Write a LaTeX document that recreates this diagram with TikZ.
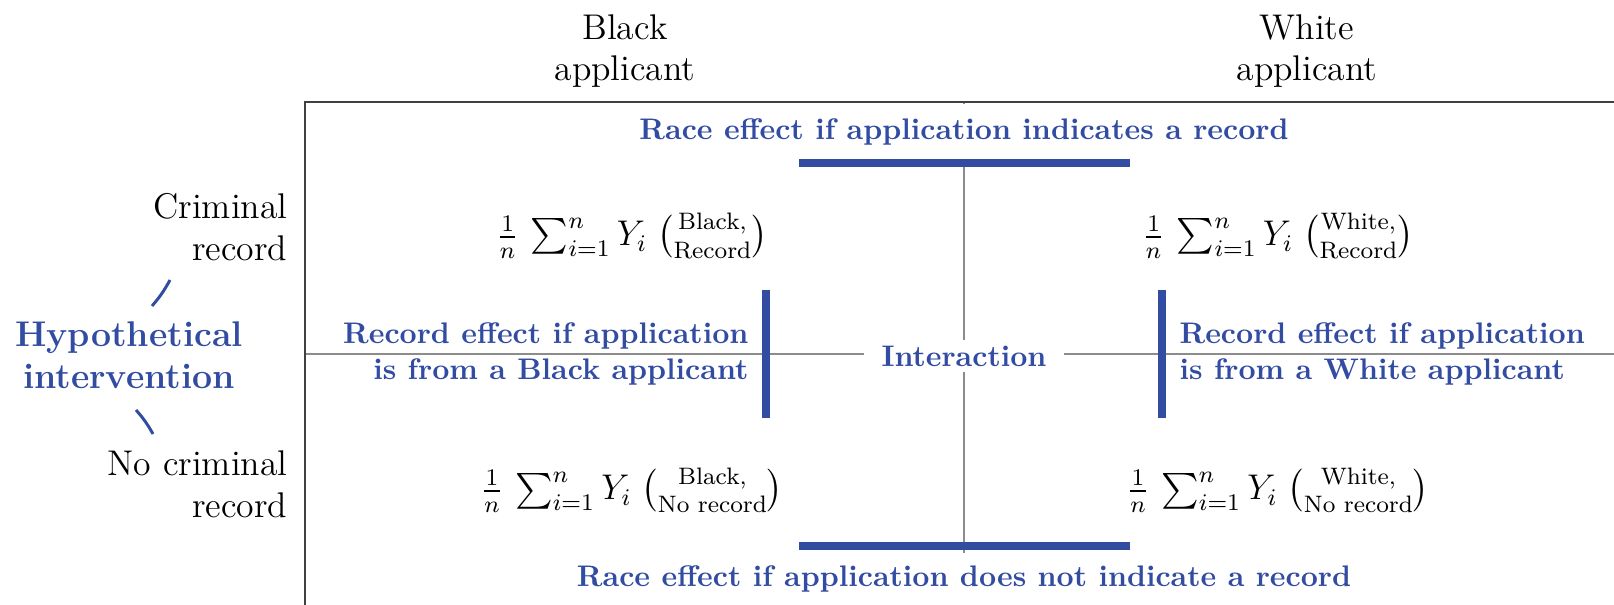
\documentclass[tikz,border=0pt]{standalone}
\usepackage{amsmath}
\usepackage{tikz}
\usetikzlibrary{positioning}
\definecolor{effblue}{RGB}{50,76,162}
\tikzstyle{axislabel}=[font=\large, align=center, inner sep=0pt]
\tikzstyle{rowlabel}=[font=\large, align=right, inner sep=0pt]
\tikzstyle{effect}=[text=effblue, font=\bfseries, inner sep=2pt]
\tikzstyle{cell}=[font=\large, inner sep=0pt]

\newcommand{\cellmean}[2]{$\frac{1}{n}\,\sum_{i=1}^{n} Y_i \;\tbinom{\text{#1,}}{\text{#2}}$}

\begin{document}
\begin{tikzpicture}[x=0.336pt, y=-0.336pt,
grid/.style={draw=black!45, line width=0.5pt},
frame/.style={draw=black!75, line width=0.6pt},
bar/.style={draw=effblue, line width=2.8pt}]
\useasboundingbox (0,0) rectangle (1614,605);

% corners of the table
\coordinate (tl) at (305,102);
\coordinate (tr) at (1614,102);
\coordinate (bl) at (305,605);
\coordinate (ml) at (305,354);
\coordinate (mr) at (1614,354);
\coordinate (ct) at (964,102);
\coordinate (cb) at (964,553);

\draw[grid] (ml) -- (mr);
\draw[grid] (ct) -- (cb);
\draw[frame] (bl) -- (tl) -- (tr);

% column and row heads
\node[axislabel] (black) at (625,51) {Black\\applicant};
\node[axislabel] (white) at (1307,51) {White\\applicant};
\node[rowlabel, anchor=east] (crim) at (288,227) {Criminal\\record};
\node[rowlabel, anchor=east] (nocrim) at (288,484) {No criminal\\record};
\node[align=center, text=effblue, font=\large\bfseries, inner sep=0pt] (hyp) at (129,355) {Hypothetical\\intervention};
\draw[effblue, line width=1pt] (170,280) to[bend left=6] (152,306);
\draw[effblue, line width=1pt] (136,410) to[bend left=6] (153,434);

% cell means
\node[cell] (br) at (632,236) {\cellmean{Black}{Record}};
\node[cell] (wr) at (1278,236) {\cellmean{White}{Record}};
\node[cell] (bn) at (632,490) {\cellmean{Black}{No record}};
\node[cell] (wn) at (1278,490) {\cellmean{White}{No record}};

% effects
\node[effect, fill=white, minimum height=19pt] (racetop) at (964,132) {Race effect if application indicates a record};
\node[effect] (racebot) at (964,579) {Race effect if application does not indicate a record};
\node[effect, fill=white, inner xsep=6pt] (inter) at (964,356) {Interaction};
\node[effect, align=right, anchor=east, inner sep=0pt] (recblack) at (749,354) {Record effect if application\\is from a Black applicant};
\node[effect, align=left, anchor=west, inner sep=0pt] (recwhite) at (1179,354) {Record effect if application\\is from a White applicant};

\coordinate (tbl) at (799,163);
\coordinate (tbr) at (1130,163);
\coordinate (bbl) at (799,546);
\coordinate (bbr) at (1130,546);
\coordinate (lbt) at (766,290);
\coordinate (lbb) at (766,418);
\coordinate (rbt) at (1162,290);
\coordinate (rbb) at (1162,418);
\draw[bar] (tbl) -- (tbr);
\draw[bar] (bbl) -- (bbr);
\draw[bar] (lbt) -- (lbb);
\draw[bar] (rbt) -- (rbb);
\end{tikzpicture}
\end{document}
